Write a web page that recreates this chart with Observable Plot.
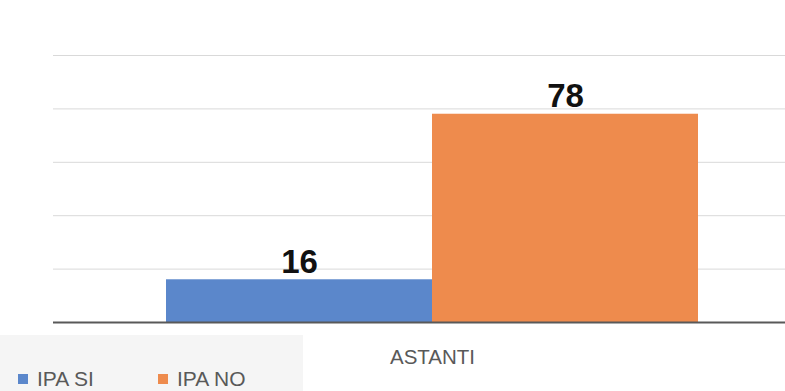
<!DOCTYPE html>
<html>
<head>
<meta charset="utf-8">
<script src="https://cdn.jsdelivr.net/npm/d3@7"></script>
<script src="https://cdn.jsdelivr.net/npm/@observablehq/plot@0.6"></script>
<style>
  html, body { margin: 0; padding: 0; background: #fff; overflow: hidden; }
  #wrap { position: relative; width: 785px; height: 391px; overflow: hidden; }
  #legend { position: absolute; left: 0; top: 335px; width: 303px; height: 56px; background: #f5f5f5;
            font-family: "Liberation Sans", Arial, sans-serif; font-size: 21px; color: #595959; }
  .item { position: absolute; top: 33px; display: flex; align-items: center; line-height: 21px; }
  .sw { width: 10px; height: 10px; margin-right: 9px; }
</style>
</head>
<body>
<div id="wrap"><div id="chart"></div><div id="legend"></div></div>
<script>
const categories = ["ASTANTI"];
const series = ["IPA SI", "IPA NO"];
const values = [16, 78];
const colors = ["#5b87cb", "#ee8b4d"];
const gridTicks = [20, 40, 60, 80, 100];

const data = series.map((s, i) => ({series: s, value: values[i], category: categories[0]}));

const chart = Plot.plot({
  width: 785,
  height: 391,
  marginLeft: 53,
  marginRight: -26,
  marginTop: 55,
  marginBottom: 69,
  style: {background: "transparent"},
  x: {domain: series, paddingInner: 0, paddingOuter: 0.422, axis: null},
  y: {domain: [0, 100], axis: null},
  color: {domain: series, range: colors},
  marks: [
    Plot.ruleY(gridTicks, {stroke: "#d9d9d9", strokeWidth: 1}),
    Plot.barY(data, {x: "series", y: "value", fill: "series"}),
    Plot.ruleY([0], {stroke: "#595959", strokeWidth: 2}),
    Plot.text(data, {x: "series", y: "value", text: d => String(d.value), lineAnchor: "bottom", dy: -7,
      fontSize: 33, fontWeight: "bold", fill: "#111", fontFamily: "Liberation Sans, Arial, sans-serif"}),
    Plot.text(categories, {text: d => d, frameAnchor: "bottom", lineAnchor: "middle", dy: 35,
      fontSize: 20.5, fill: "#595959", fontFamily: "Liberation Sans, Arial, sans-serif"})
  ]
});
document.getElementById("chart").appendChild(chart);

const legend = document.getElementById("legend");
const lefts = [18, 158];
series.forEach((s, i) => {
  const it = document.createElement("div");
  it.className = "item";
  it.style.left = lefts[i] + "px";
  const sw = document.createElement("span");
  sw.className = "sw";
  sw.style.background = colors[i];
  const t = document.createElement("span");
  t.textContent = s;
  it.appendChild(sw); it.appendChild(t);
  legend.appendChild(it);
});
</script>
</body>
</html>
